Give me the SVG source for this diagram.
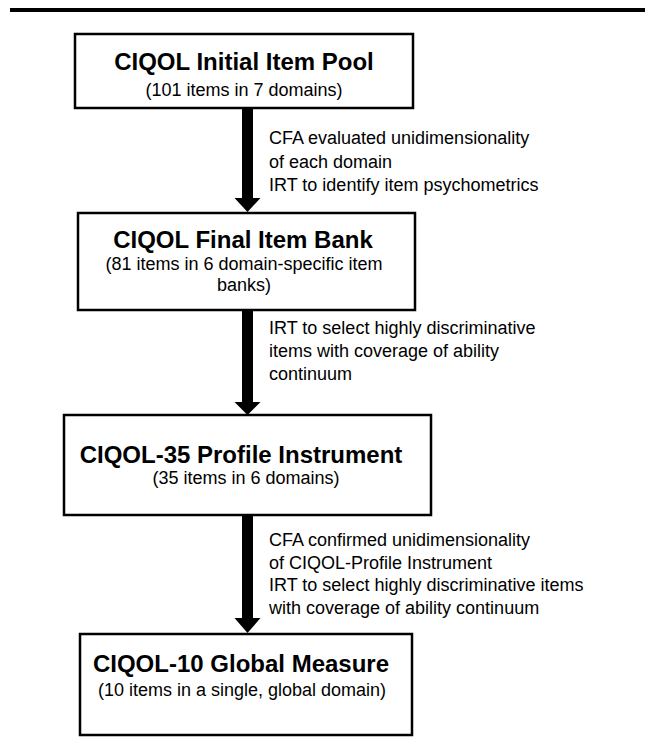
<svg xmlns="http://www.w3.org/2000/svg" width="645" height="745" viewBox="0 0 645 745">
<defs>
<style>
.box{fill:#fff;stroke:#000;stroke-width:2.5}
.t{font-family:"Liberation Sans",Arial,sans-serif;font-weight:bold;font-size:24px;fill:#000;text-anchor:middle}
.s{font-family:"Liberation Sans",Arial,sans-serif;font-size:18px;fill:#000;text-anchor:middle}
.l{font-family:"Liberation Sans",Arial,sans-serif;font-size:18px;fill:#000}
.stem{stroke:#000;stroke-width:11;fill:none}
</style>
<marker id="ah" markerUnits="userSpaceOnUse" markerWidth="28" markerHeight="16" refX="14" refY="15" orient="auto-start-reverse" viewBox="0 0 28 16">
<path d="M1,1 L27,1 L14,15 Z" fill="#000"/>
</marker>
</defs>
<rect x="10" y="8" width="635" height="4" fill="#000"/>
<g id="connectors">
<line class="stem" x1="247.5" y1="108" x2="247.5" y2="199"/>
<path d="M234.5,198 L260.5,198 L247.5,212 Z" fill="#000"/>
<line class="stem" x1="247.5" y1="310" x2="247.5" y2="403"/>
<path d="M234.5,402 L260.5,402 L247.5,415 Z" fill="#000"/>
<line class="stem" x1="247.5" y1="515" x2="247.5" y2="619"/>
<path d="M234.5,618 L260.5,618 L247.5,633 Z" fill="#000"/>
<g id="label1">
<text class="l" x="269" y="144">CFA evaluated unidimensionality</text>
<text class="l" x="269" y="167.5">of each domain</text>
<text class="l" x="269" y="191">IRT to identify item psychometrics</text>
</g>
<g id="label2">
<text class="l" x="269" y="334">IRT to select highly discriminative</text>
<text class="l" x="269" y="357">items with coverage of ability</text>
<text class="l" x="269" y="380">continuum</text>
</g>
<g id="label3">
<text class="l" x="269" y="546">CFA confirmed unidimensionality</text>
<text class="l" x="269" y="568.5">of CIQOL-Profile Instrument</text>
<text class="l" x="269" y="591">IRT to select highly discriminative items</text>
<text class="l" x="269" y="613.5">with coverage of ability continuum</text>
</g>
</g>
<g id="node1">
<rect class="box" x="75" y="34" width="338" height="74"/>
<text class="t" x="244" y="70">CIQOL Initial Item Pool</text>
<text class="s" x="244" y="96">(101 items in 7 domains)</text>
</g>
<g id="node2">
<rect class="box" x="78" y="213" width="337" height="97"/>
<text class="t" x="243" y="248">CIQOL Final Item Bank</text>
<text class="s" x="244" y="270">(81 items in 6 domain-specific item</text>
<text class="s" x="244" y="291">banks)</text>
</g>
<g id="node3">
<rect class="box" x="64" y="415" width="367" height="100"/>
<text class="t" x="241" y="463">CIQOL-35 Profile Instrument</text>
<text class="s" x="246" y="484">(35 items in 6 domains)</text>
</g>
<g id="node4">
<rect class="box" x="80" y="634" width="332" height="101"/>
<text class="t" x="241" y="672">CIQOL-10 Global Measure</text>
<text class="s" x="242" y="696">(10 items in a single, global domain)</text>
</g>
</svg>
